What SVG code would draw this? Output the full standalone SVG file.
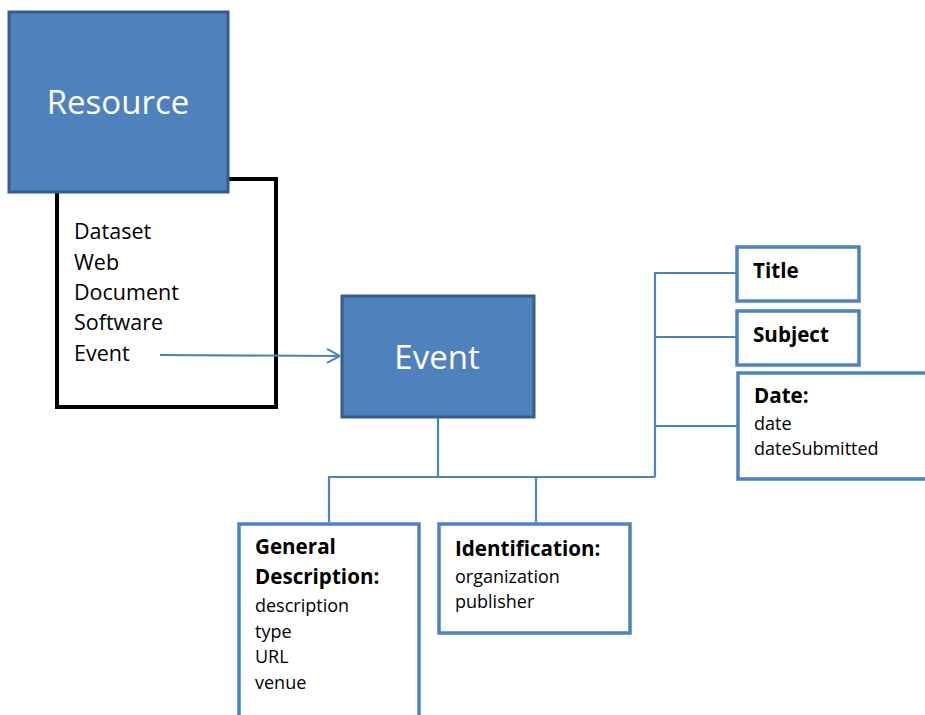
<svg xmlns="http://www.w3.org/2000/svg" width="925" height="715" viewBox="0 0 925 715">
  <defs>
    <style>
      .blue { fill: #4F81BD; stroke: #385D8A; stroke-width: 3; }
      .list { fill: #FFFFFF; stroke: #000000; stroke-width: 4; }
      .card { fill: #FFFFFF; stroke: #4F81BD; stroke-width: 3.5; }
      .link { fill: none; stroke: #4F81BD; stroke-width: 2.2; }
      .big { font-family: "Open Sans", "Liberation Sans", sans-serif; font-size: 33px; fill: #FFFFFF; text-anchor: middle; }
      .item { font-family: "Open Sans", "Liberation Sans", sans-serif; font-size: 21.5px; fill: #000000; }
      .head { font-family: "Open Sans", "Liberation Sans", sans-serif; font-size: 20.6px; font-weight: bold; fill: #000000; }
      .small { font-family: "Open Sans", "Liberation Sans", sans-serif; font-size: 18px; fill: #000000; }
    </style>
    <marker id="openArrow" markerWidth="16" markerHeight="16" refX="14" refY="8" orient="auto" markerUnits="userSpaceOnUse">
      <path d="M1,1 L14,8 L1,15" fill="none" stroke="#4F81BD" stroke-width="2"/>
    </marker>
  </defs>

  <rect width="925" height="715" fill="#FFFFFF"/>

  <!-- Resource type list (behind the Resource box) -->
  <g id="resource-types">
    <rect class="list" x="57" y="179" width="219" height="228"/>
    <text class="item" x="74" y="239">Dataset</text>
    <text class="item" x="74" y="270">Web</text>
    <text class="item" x="74" y="300">Document</text>
    <text class="item" x="74" y="330">Software</text>
    <text class="item" x="74" y="361">Event</text>
  </g>

  <g id="resource">
    <rect class="blue" x="9" y="12" width="219" height="180"/>
    <text class="big" x="118" y="114">Resource</text>
  </g>

  <g id="event">
    <rect class="blue" x="342" y="296" width="192" height="121"/>
    <text class="big" x="437" y="369">Event</text>
  </g>

  <!-- Connectors -->
  <g id="connectors">
    <line class="link" x1="160" y1="355" x2="340" y2="356" marker-end="url(#openArrow)"/>
    <line class="link" x1="438" y1="418" x2="438" y2="477"/>
    <polyline class="link" points="329,522 329,477 655,477"/>
    <line class="link" x1="536" y1="477" x2="536" y2="522"/>
    <polyline class="link" points="738,273 655,273 655,477"/>
    <line class="link" x1="655" y1="337" x2="736" y2="337"/>
    <line class="link" x1="655" y1="426" x2="737" y2="426"/>
  </g>

  <g id="title">
    <rect class="card" x="737" y="247" width="122" height="54"/>
    <text class="head" x="753" y="278">Title</text>
  </g>

  <g id="subject">
    <rect class="card" x="737" y="311" width="122" height="54"/>
    <text class="head" x="753" y="342">Subject</text>
  </g>

  <g id="date">
    <rect class="card" x="738" y="373" width="200" height="106"/>
    <text class="head" x="754" y="403">Date:</text>
    <text class="small" x="754" y="430">date</text>
    <text class="small" x="754" y="455">dateSubmitted</text>
  </g>

  <g id="general-description">
    <rect class="card" x="239" y="524" width="180" height="210"/>
    <text class="head" x="255" y="554">General</text>
    <text class="head" x="255" y="584">Description:</text>
    <text class="small" x="255" y="612">description</text>
    <text class="small" x="255" y="638">type</text>
    <text class="small" x="255" y="663">URL</text>
    <text class="small" x="255" y="689">venue</text>
  </g>

  <g id="identification">
    <rect class="card" x="439" y="524" width="191" height="109"/>
    <text class="head" x="455" y="556">Identification:</text>
    <text class="small" x="455" y="583">organization</text>
    <text class="small" x="455" y="608">publisher</text>
  </g>
</svg>
